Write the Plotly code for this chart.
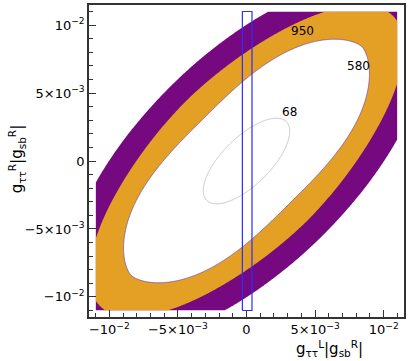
import numpy as np
import plotly.graph_objects as go

# ---- data -------------------------------------------------------------
# region outlines in rotated coords u=(x+y)/sqrt2, v=(y-x)/sqrt2 :
#   |u/a|^p + |v/b|^q = 1
shape_names = ["outer", "950", "580", "68"]
shape_a = [0.0170, 0.0151, 0.0119, 0.0041]
shape_b = [0.0078, 0.00624, 0.00443, 0.00175]
shape_p = [2.0, 1.8, 3.0, 2.0]
shape_q = [2.0, 2.0, 1.6, 2.0]

domain = [-0.011, 0.011]          # extent of the scanned parameter plane
axis_range = [-0.01148, 0.01148]

label_text = ["950", "580", "68"]
label_x = [0.0041, 0.00816, 0.00317]
label_y = [0.00956, 0.00697, 0.00361]

rect_x = [-0.0003, 0.0004]
rect_y = [-0.011, 0.011]

tick_vals = [-0.01, -0.005, 0, 0.005, 0.01]
tick_text = ["−10<sup>−2</sup>", "−5×10<sup>−3</sup>", "0",
             "5×10<sup>−3</sup>", "10<sup>−2</sup>"]

PURPLE = "rgb(118,9,128)"
ORANGE = "rgb(227,160,37)"

# ---- grid --------------------------------------------------------------
xs = np.linspace(domain[0], domain[1], 401)
ys = np.linspace(domain[0], domain[1], 401)
X, Y = np.meshgrid(xs, ys)
U = (X + Y) / np.sqrt(2)
V = (Y - X) / np.sqrt(2)


def inside_measure(i):
    z = np.abs(U / shape_a[i]) ** shape_p[i] + np.abs(V / shape_b[i]) ** shape_q[i]
    return 2.0 - z   # > 1 inside the outline


def fill_trace(i, color, line_color=None, line_width=0):
    return go.Contour(
        x=xs, y=ys, z=inside_measure(i),
        contours=dict(start=1, end=1, size=1, coloring="fill",
                      showlines=line_width > 0),
        colorscale=[[0, "rgba(255,255,255,0)"], [0.5, "rgba(255,255,255,0)"],
                    [0.5, color], [1, color]],
        zmin=0, zmax=2, showscale=False,
        line=dict(width=line_width, color=line_color or color, smoothing=1),
        hoverinfo="skip",
    )


fig = go.Figure()
fig.add_trace(fill_trace(0, PURPLE))
fig.add_trace(fill_trace(1, ORANGE))
fig.add_trace(fill_trace(2, "rgb(255,255,255)", line_color="rgb(125,80,160)", line_width=0.8))
fig.add_trace(go.Contour(
    x=xs, y=ys, z=inside_measure(3),
    contours=dict(start=1, end=1, size=1, coloring="none", showlines=True),
    line=dict(width=1, color="rgb(200,200,200)", smoothing=1),
    showscale=False, hoverinfo="skip",
))
fig.add_trace(go.Scatter(
    x=[rect_x[0], rect_x[1], rect_x[1], rect_x[0], rect_x[0]],
    y=[rect_y[0], rect_y[0], rect_y[1], rect_y[1], rect_y[0]],
    mode="lines", line=dict(color="rgb(45,45,255)", width=1.2),
    hoverinfo="skip", showlegend=False,
))

for t, lx, ly in zip(label_text, label_x, label_y):
    fig.add_annotation(x=lx, y=ly, text=t, showarrow=False,
                       font=dict(family="DejaVu Sans", size=12, color="black"))

axis_common = dict(
    range=axis_range, showgrid=False, zeroline=False,
    showline=True, linecolor="#333", linewidth=1.5, mirror=True,
    ticks="inside", ticklen=7, tickwidth=1.2, tickcolor="#333",
    tickvals=tick_vals, ticktext=tick_text,
    tickfont=dict(family="DejaVu Sans", size=13, color="black"),
    minor=dict(dtick=0.001, tick0=0, ticks="inside", ticklen=4,
               tickwidth=1, tickcolor="#333"),
)
fig.update_xaxes(**axis_common)
fig.update_yaxes(**axis_common)

fig.add_annotation(xref="paper", yref="paper", x=0.764, y=-0.10,
                   text="g<sub>ττ</sub><sup>L</sup>|g<sub>sb</sub><sup>R</sup>|",
                   showarrow=False, xanchor="center", yanchor="middle",
                   font=dict(family="DejaVu Sans", size=15, color="black"))
fig.add_annotation(xref="paper", yref="paper", x=-0.231, y=0.506,
                   text="g<sub>ττ</sub><sup>R</sup>|g<sub>sb</sub><sup>R</sup>|",
                   showarrow=False, textangle=-90, xanchor="center", yanchor="middle",
                   font=dict(family="DejaVu Sans", size=15, color="black"))

fig.update_layout(
    width=409, height=361,
    margin=dict(l=89, r=4.5, t=3, b=44),
    plot_bgcolor="white", paper_bgcolor="white",
    showlegend=False,
)
fig.write_html("out.html", config={"displayModeBar": False},
               post_script="document.body.style.margin='0px';document.body.style.overflow='hidden';")
